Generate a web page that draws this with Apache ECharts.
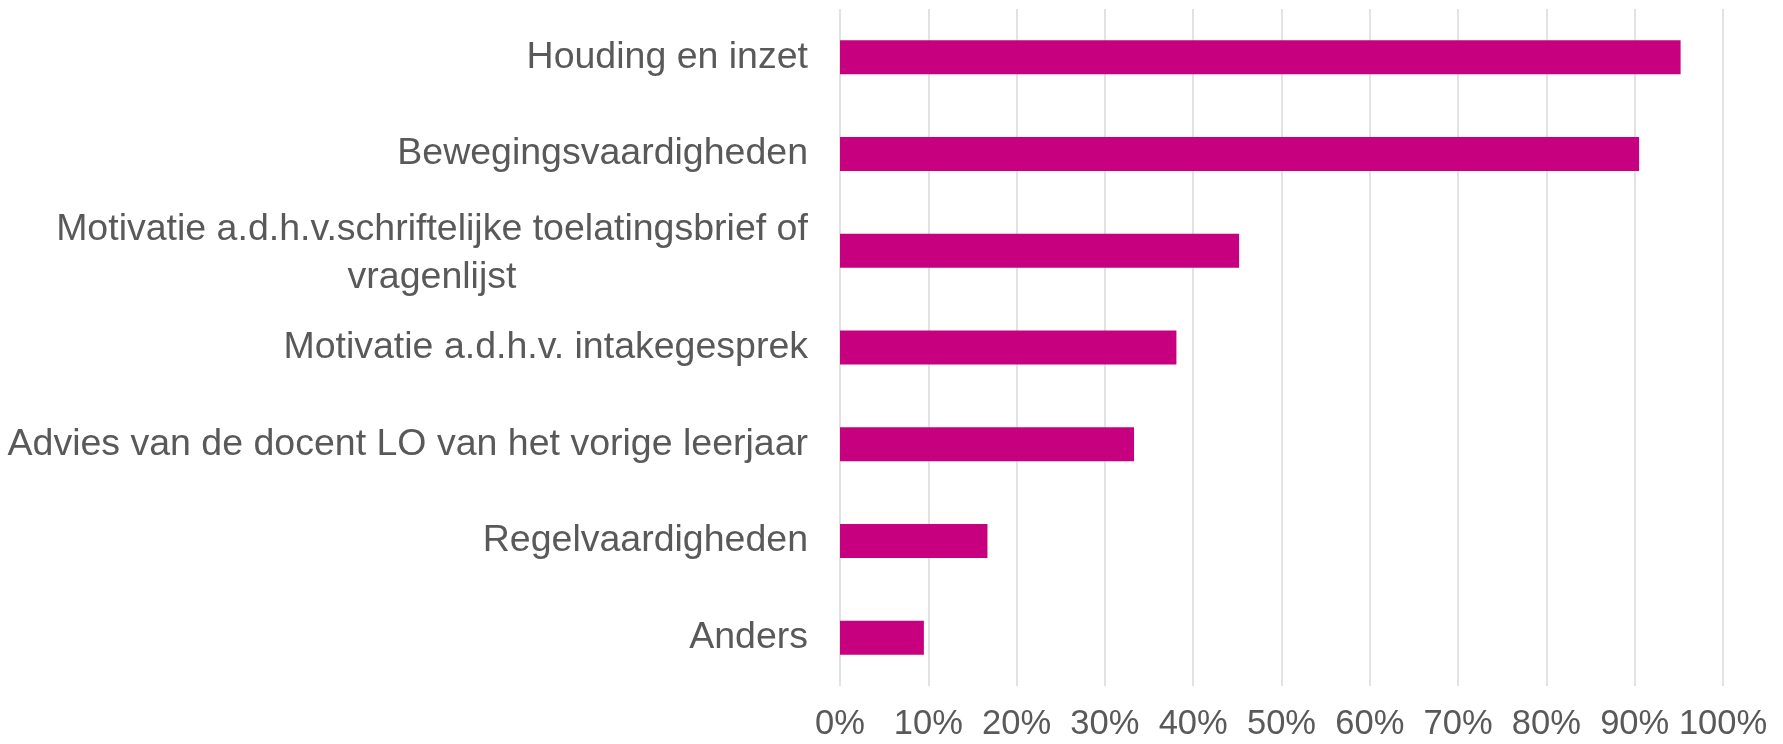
<!DOCTYPE html>
<html>
<head>
<meta charset="utf-8">
<script src="https://cdn.jsdelivr.net/npm/echarts@6/dist/echarts.min.js"></script>
<style>
  html, body { margin: 0; padding: 0; background: #fff; }
  #chart { width: 1783px; height: 744px; }
</style>
</head>
<body>
<div id="chart"></div>
<script>
// categories from bottom to top (category axis on y starts at bottom)
const categories = [
  'Anders',
  'Regelvaardigheden',
  'Advies van de docent LO van het vorige leerjaar',
  'Motivatie a.d.h.v. intakegesprek',
  'Motivatie a.d.h.v.schriftelijke toelatingsbrief of\nvragenlijst',
  'Bewegingsvaardigheden',
  'Houding en inzet'
]
const values = [9.5, 16.7, 33.3, 38.1, 45.2, 90.5, 95.2]

const fontFam = '"Liberation Sans", Arial, sans-serif'
const labelSize = 37.5

// width of widest line, so wrapped labels are centred like in Excel
const ctx = document.createElement('canvas').getContext('2d')
ctx.font = labelSize + 'px ' + fontFam
const lineWidth = (s) => Math.ceil(ctx.measureText(s).width)

const chart = echarts.init(document.getElementById('chart'))

chart.setOption({
  animation: false,
  grid: { left: 840, right: 60, top: 9, bottom: 58, containLabel: false },
  xAxis: {
    type: 'value',
    min: 0,
    max: 100,
    interval: 10,
    axisLine: { show: false },
    axisTick: { show: false },
    axisLabel: {
      formatter: '{value}%',
      color: '#595959',
      fontSize: 34.5,
      fontFamily: fontFam,
      margin: 21
    },
    splitLine: { show: true, lineStyle: { color: '#d9d9d9', width: 1.5 } }
  },
  yAxis: {
    type: 'category',
    data: categories,
    axisLine: { show: false },
    axisTick: { show: false },
    axisLabel: {
      color: '#595959',
      fontSize: labelSize,
      fontFamily: fontFam,
      lineHeight: 48,
      margin: 32,
      formatter: function (v) {
        if (v.indexOf('\n') < 0) return v
        const lines = v.split('\n')
        return lines.map(l => '{c|' + l + '}').join('\n')
      },
      rich: {
        c: {
          width: lineWidth('Motivatie a.d.h.v.schriftelijke toelatingsbrief of'),
          align: 'center',
          fontSize: labelSize,
          lineHeight: 48,
          color: '#595959',
          fontFamily: fontFam,
          padding: [6, 0, 0, 0]
        }
      }
    }
  },
  series: [
    {
      type: 'bar',
      data: values,
      barWidth: 34,
      itemStyle: { color: '#C6007E' }
    }
  ]
})
</script>
</body>
</html>
